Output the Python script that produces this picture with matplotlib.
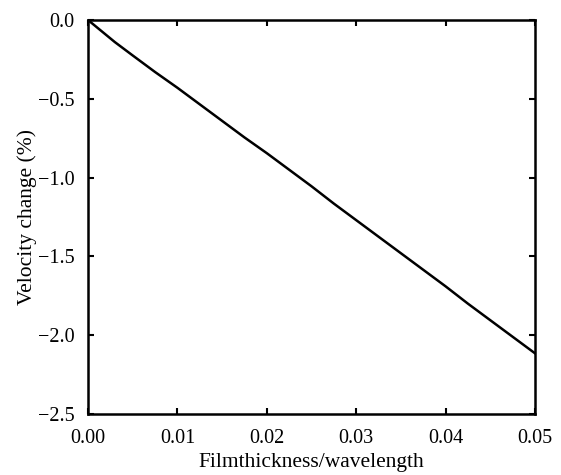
import matplotlib
matplotlib.use("Agg")
import matplotlib.pyplot as plt

thickness = [0.0, 0.0015, 0.003, 0.005, 0.0075, 0.01, 0.0125, 0.015, 0.0175, 0.02,
             0.0225, 0.025, 0.0275, 0.03, 0.0325, 0.035, 0.0375, 0.04, 0.0425,
             0.045, 0.0475, 0.05]
velocity_change = [0.0, -0.07, -0.14, -0.225, -0.33, -0.43, -0.535, -0.64, -0.745,
                   -0.845, -0.95, -1.055, -1.165, -1.27, -1.375, -1.48, -1.585,
                   -1.69, -1.80, -1.905, -2.01, -2.115]
xticks = [0.00, 0.01, 0.02, 0.03, 0.04, 0.05]
yticks = [0.0, -0.5, -1.0, -1.5, -2.0, -2.5]

plt.rcParams['font.family'] = ['Liberation Serif', 'DejaVu Serif']
plt.rcParams['axes.unicode_minus'] = True

fig = plt.figure(figsize=(5.61, 4.75), dpi=100)
ax = fig.add_axes([88/561, 1-414/475, (535-88)/561, (414-20)/475])
ax.plot(thickness, velocity_change, color='black', linewidth=1.8)
ax.set_xlim(0, 0.05)
ax.set_ylim(-2.5, 0)
ax.set_xticks(xticks)
ax.set_xticklabels([f"{t:.2f}" for t in xticks])
ax.set_yticks(yticks)
ax.set_yticklabels([f"{t:.1f}".replace('-', '\u2212') for t in yticks])
ax.tick_params(direction='in', length=4, width=1.5, top=True, right=True,
               labelsize=14.5)
ax.tick_params(axis='x', pad=10.5)
ax.tick_params(axis='y', pad=9.5)
for s in ax.spines.values():
    s.set_linewidth(1.8)
ax.set_xlabel('Filmthickness/wavelength', fontsize=15.5, labelpad=4)
ax.set_ylabel('Velocity change (%)', fontsize=15.5, labelpad=1)
fig.savefig('out.png', dpi=100)
